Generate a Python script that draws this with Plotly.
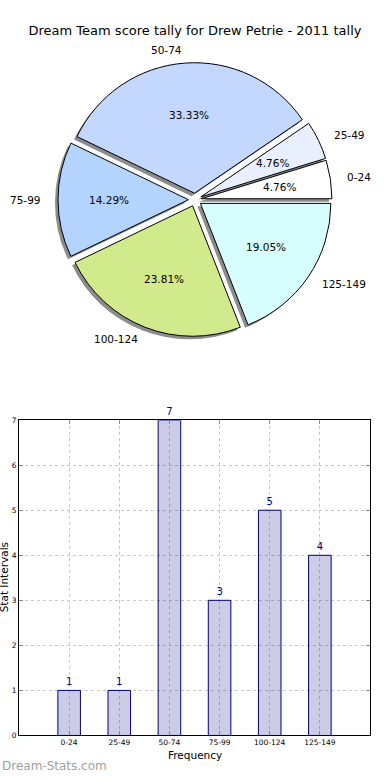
import math
import plotly.graph_objects as go

# ---- data ----
chart_title = "Dream Team score tally for Drew Petrie - 2011 tally"
categories = ["0-24", "25-49", "50-74", "75-99", "100-124", "125-149"]
counts = [1, 1, 7, 3, 5, 4]
slice_colors = ["#ffffff", "#e8f0ff", "#c4d8ff", "#b3d4ff", "#d0ea8c", "#d8ffff"]
y_tick_values = [0, 1, 2, 3, 4, 5, 6, 7]
x_title = "Frequency"
y_title = "Stat Intervals"
watermark = "Dream-Stats.com"

# ---- layout constants (pixels) ----
W, H = 390, 780
EXPLODE = 0.05
R = 132
CX, CY = 195, 198
SHADOW = 3
FONT = "DejaVu Sans"


def px_x(x):
    return x / W


def px_y(y):
    return 1 - y / H


half = R * (1 + EXPLODE)
pie_dom_x = [px_x(CX - half), px_x(CX + half)]
pie_dom_y = [px_y(CY + half), px_y(CY - half)]
sh_dom_x = [px_x(CX - half - SHADOW), px_x(CX + half - SHADOW)]
sh_dom_y = [px_y(CY + half + SHADOW), px_y(CY - half + SHADOW)]

total = sum(counts)
# plotly's counterclockwise layout is offset by the first slice; start at 3 o'clock
rotation = 90 - 360.0 * counts[0] / total

fig = go.Figure()

# shadow pie
fig.add_trace(go.Pie(
    labels=categories, values=counts, sort=False, direction="counterclockwise",
    rotation=rotation, pull=[EXPLODE] * len(counts),
    marker=dict(colors=["rgba(0,0,0,0.45)"] * len(counts), line=dict(width=0)),
    textinfo="none", hoverinfo="skip", showlegend=False,
    domain=dict(x=sh_dom_x, y=sh_dom_y),
))

# main pie
fig.add_trace(go.Pie(
    labels=categories, values=counts, sort=False, direction="counterclockwise",
    rotation=rotation, pull=[EXPLODE] * len(counts),
    marker=dict(colors=slice_colors, line=dict(color="black", width=1)),
    textinfo="none", showlegend=False,
    domain=dict(x=pie_dom_x, y=pie_dom_y),
))

# label + percentage annotations placed like matplotlib (computed from data)
theta = 0.0
annotations = []
for lab, v in zip(categories, counts):
    frac = v / total
    mid = math.radians((theta + frac * 180.0))
    theta += frac * 360.0
    c, s = math.cos(mid), math.sin(mid)
    lx = CX + (EXPLODE + 1.1) * R * c
    ly = CY - (EXPLODE + 1.1) * R * s
    annotations.append(dict(
        x=px_x(lx), y=px_y(ly), xref="paper", yref="paper", text=lab,
        showarrow=False, xanchor="left" if c > 0 else "right", yanchor="middle",
        font=dict(family=FONT, size=10.5, color="black")))
    tx = CX + (EXPLODE + 0.6) * R * c
    ty = CY - (EXPLODE + 0.6) * R * s
    annotations.append(dict(
        x=px_x(tx), y=px_y(ty), xref="paper", yref="paper",
        text=f"{100 * frac:.2f}%", showarrow=False,
        xanchor="center", yanchor="middle",
        font=dict(family=FONT, size=10.5, color="black")))

# bar chart
fig.add_trace(go.Bar(
    x=categories, y=counts, width=0.45,
    marker=dict(color="rgba(0,0,128,0.2)", line=dict(color="#000080", width=1)),
    text=[str(c) for c in counts], textposition="outside", constraintext="none",
    textfont=dict(family=FONT, size=10, color="#000080"), cliponaxis=False,
    showlegend=False, xaxis="x", yaxis="y",
))

annotations += [
    dict(x=px_x(194.5), y=px_y(760), xref="paper", yref="paper", text=x_title,
         showarrow=False, xanchor="center", yanchor="middle",
         font=dict(family=FONT, size=10.5, color="black")),
    dict(x=px_x(4), y=px_y(580), xref="paper", yref="paper", text=y_title,
         showarrow=False, textangle=-90, xanchor="center", yanchor="middle",
         font=dict(family=FONT, size=10.5, color="black")),
    dict(x=0, y=px_y(771), xref="paper", yref="paper", text=watermark,
         showarrow=False, xanchor="left", yanchor="middle",
         font=dict(family=FONT, size=12, color="#a0a0a0")),
]

axis_common = dict(
    showline=True, linecolor="black", linewidth=1, mirror="ticks",
    ticks="inside", ticklen=4, tickcolor="#888888",
    showgrid=True, gridcolor="#c8c8c8", griddash="dot", gridwidth=1,
    tickfont=dict(family=FONT, size=7.5, color="black"), zeroline=False,
)

fig.update_layout(
    width=W, height=H, autosize=False,
    margin=dict(l=0, r=0, t=0, b=0),
    paper_bgcolor="white", plot_bgcolor="white",
    title=dict(text=chart_title, x=0.5, xanchor="center", y=px_y(30), yanchor="middle",
               font=dict(family=FONT, size=13, color="black")),
    xaxis=dict(domain=[px_x(19), px_x(370)], anchor="y", type="category",
               range=[-1, 6], **axis_common),
    yaxis=dict(domain=[px_y(740), px_y(421)], anchor="x", range=[0, 7],
               tickvals=y_tick_values, **axis_common),
    annotations=annotations,
    font=dict(family=FONT),
)

fig.write_html("out.html", config={"displayModeBar": False},
               post_script="document.body.style.margin='0px';")
